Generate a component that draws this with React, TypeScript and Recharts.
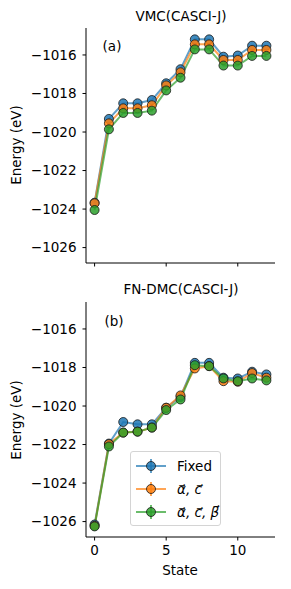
import { CartesianGrid, Legend, Line, LineChart, XAxis, YAxis } from "recharts";

const states = [0, 1, 2, 3, 4, 5, 6, 7, 8, 9, 10, 11, 12];

const vmcFixed = [-1023.67, -1019.32, -1018.51, -1018.51, -1018.34, -1017.47, -1016.74, -1015.19, -1015.19, -1016.09, -1016.03, -1015.52, -1015.52];
const vmcAC = [-1023.7, -1019.55, -1018.77, -1018.77, -1018.61, -1017.58, -1016.9, -1015.45, -1015.45, -1016.26, -1016.26, -1015.74, -1015.74];
const vmcACB = [-1024.05, -1019.86, -1019.01, -1019.01, -1018.89, -1017.84, -1017.18, -1015.71, -1015.71, -1016.55, -1016.55, -1016.05, -1016.05];

const dmcFixed = [-1026.15, -1021.95, -1020.83, -1020.95, -1020.95, -1020.09, -1019.53, -1017.76, -1017.76, -1018.53, -1018.57, -1018.22, -1018.36];
const dmcAC = [-1026.22, -1021.98, -1021.38, -1021.33, -1021.12, -1020.09, -1019.45, -1018.05, -1017.93, -1018.71, -1018.74, -1018.29, -1018.53];
const dmcACB = [-1026.25, -1022.1, -1021.38, -1021.33, -1021.12, -1020.21, -1019.66, -1017.88, -1017.93, -1018.57, -1018.71, -1018.57, -1018.67];

const xTicks = [0, 5, 10];
const yTicks = [-1026, -1024, -1022, -1020, -1018, -1016];

const seriesNames = ["Fixed", "α⃗, c⃗", "α⃗, c⃗, β⃗"];
const colors = ["#1f77b4", "#ff7f0e", "#2ca02c"];

const font = "'DejaVu Sans', sans-serif";
const fs = 13.5;

const vmcData = states.map((s, i) => ({ state: s, fixed: vmcFixed[i], ac: vmcAC[i], acb: vmcACB[i] }));
const dmcData = states.map((s, i) => ({ state: s, fixed: dmcFixed[i], ac: dmcAC[i], acb: dmcACB[i] }));

const keys = ["fixed", "ac", "acb"];

function LegendBox({ payload }: any) {
  return (
    <div
      style={{
        width: 91,
        height: 75,
        border: "1px solid #d4d4d4",
        borderRadius: 3,
        background: "rgba(255,255,255,0.85)",
        fontFamily: font,
        fontSize: fs,
        paddingTop: 2,
        boxSizing: "border-box",
      }}
    >
      {(payload || []).map((p: any, i: number) => (
        <div key={i} style={{ display: "flex", alignItems: "center", height: 23 }}>
          <svg width={42} height={20} style={{ flex: "none" }}>
            <line x1={5} y1={10} x2={35} y2={10} stroke={p.color} strokeWidth={2} strokeOpacity={0.7} />
            <line x1={20} y1={3} x2={20} y2={17} stroke={p.color} strokeWidth={2} strokeOpacity={0.7} />
            <circle cx={20} cy={10} r={4.5} fill={p.color} fillOpacity={0.85} stroke="#1a1a1a" strokeOpacity={0.8} />
          </svg>
          <span style={{ marginLeft: 4, fontStyle: i === 0 ? "normal" : "italic", whiteSpace: "nowrap" }}>{p.value}</span>
        </div>
      ))}
    </div>
  );
}

function Panel({ data, bottom }: { data: any[]; bottom: boolean }) {
  const h = bottom ? 299 : 290;
  return (
    <LineChart
      width={291}
      height={h}
      data={data}
      margin={{ top: bottom ? 12 : 28, right: 16, left: 0, bottom: bottom ? 30 : 7 }}
    >
      <CartesianGrid stroke="none" />
      <XAxis
        dataKey="state"
        type="number"
        domain={[-0.6, 12.6]}
        ticks={xTicks}
        allowDataOverflow
        height={bottom ? 22 : 20}
        tickSize={3.5}
        tickMargin={5}
        stroke="#000"
        tick={{ fill: "#000", fontSize: fs, fontFamily: font }}
        tickFormatter={bottom ? undefined : () => ""}
      />
      <YAxis
        type="number"
        domain={[-1026.8, -1014.6]}
        ticks={yTicks}
        allowDataOverflow
        width={86}
        tickSize={3.5}
        tickMargin={6}
        stroke="#000"
        tick={{ fill: "#000", fontSize: fs, fontFamily: font }}
        tickFormatter={(v: number) => String(v).replace("-", "\u2212")}
      />
      {keys.map((k, i) => (
        <Line
          key={k}
          dataKey={k}
          name={seriesNames[i]}
          stroke={colors[i]}
          strokeWidth={2}
          strokeOpacity={0.7}
          isAnimationActive={false}
          dot={{ r: 4.5, fill: colors[i], fillOpacity: 0.85, stroke: "#1a1a1a", strokeOpacity: 0.8, strokeWidth: 1 }}
        />
      ))}
      {bottom && (
        <Legend
          layout="vertical"
          align="center"
          verticalAlign="middle"
          content={<LegendBox />}
          wrapperStyle={{ position: "absolute", left: 130, top: 161, width: 91, height: 75 }}
        />
      )}
    </LineChart>
  );
}

function Txt({ x, y, children, rotate, size }: any) {
  return (
    <div
      style={{
        position: "absolute",
        left: x,
        top: y,
        transform: `translate(-50%, -50%)${rotate ? " rotate(-90deg)" : ""}`,
        fontFamily: font,
        fontSize: size || fs,
        lineHeight: 1,
        whiteSpace: "nowrap",
        color: "#000",
      }}
    >
      {children}
    </div>
  );
}

export default function App() {
  return (
    <div style={{ position: "absolute", left: 0, top: 0, width: 291, height: 589, background: "#fff", overflow: "hidden" }}>
      <div style={{ position: "absolute", left: 0, top: 0 }}>
        <Panel data={vmcData} bottom={false} />
      </div>
      <div style={{ position: "absolute", left: 0, top: 290 }}>
        <Panel data={dmcData} bottom={true} />
      </div>
      <Txt x={181} y={17}>VMC(CASCI-J)</Txt>
      <Txt x={181} y={290}>FN-DMC(CASCI-J)</Txt>
      <Txt x={112} y={47}>(a)</Txt>
      <Txt x={114} y={322}>(b)</Txt>
      <Txt x={17} y={145} rotate>Energy (eV)</Txt>
      <Txt x={17} y={420} rotate>Energy (eV)</Txt>
      <Txt x={180} y={571}>State</Txt>
    </div>
  );
}
